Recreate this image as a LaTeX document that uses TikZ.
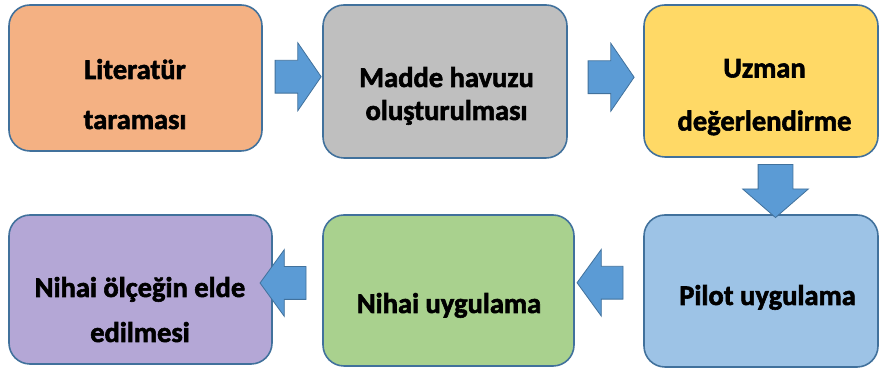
\documentclass[tikz,border=0pt]{standalone}
\usepackage{fontspec}
\setmainfont[BoldFeatures={FakeBold=2}]{Carlito}
\usetikzlibrary{shapes.arrows,calc}

\definecolor{edgeblue}{HTML}{41719C}
\definecolor{arrowblue}{HTML}{5B9BD5}
\definecolor{litfill}{HTML}{F4B183}
\definecolor{maddefill}{HTML}{BFBFBF}
\definecolor{uzmanfill}{HTML}{FFD966}
\definecolor{pilotfill}{HTML}{9DC3E6}
\definecolor{nihaifill}{HTML}{A9D18E}
\definecolor{olcekfill}{HTML}{B4A7D6}

\begin{document}
\begin{tikzpicture}[x=1pt, y=1pt,
	box/.style={draw=edgeblue, line width=1.6pt, rounded corners=21pt},
	lbl/.style={font=\bfseries\fontsize{28.5}{#1}\selectfont, align=center, inner sep=0pt, anchor=base},
	blk/.style={single arrow, draw=edgeblue, line width=0.8pt, fill=arrowblue, inner xsep=0pt, single arrow head indent=0pt}]
	\useasboundingbox (0,0) rectangle (881,374);
	% boxes, top row
	\node[box, fill=litfill, minimum width=253pt, minimum height=146pt] (lit) at (135.5,296) {};
	\node[box, fill=maddefill, minimum width=244pt, minimum height=153pt] (madde) at (445,292.5) {};
	\node[box, fill=uzmanfill, minimum width=234pt, minimum height=152pt] (uzman) at (761,293) {};
	% boxes, bottom row
	\node[box, fill=pilotfill, minimum width=234pt, minimum height=152pt] (pilot) at (761,83) {};
	\node[box, fill=nihaifill, minimum width=251pt, minimum height=151pt] (nihai) at (448.5,83.5) {};
	\node[box, fill=olcekfill, minimum width=263pt, minimum height=149pt] (olcek) at (140.5,84.5) {};
	% texts (base = last line)
	\node[lbl=50] (litT) at (135,245) {Literatür\\taraması};
	\node[lbl=33] (maddeT) at (446.5,254) {Madde havuzu\\oluşturulması};
	\node[lbl=53] (uzmanT) at (764.5,243.5) {Uzman\\değerlendirme};
	\node[lbl=31] (pilotT) at (767.5,69) {Pilot uygulama};
	\node[lbl=31] (nihaiT) at (449,61) {Nihai uygulama};
	\node[lbl=45] (olcekT) at (140,32) {Nihai ölçeğin elde\\edilmesi};
	% block arrows
	\node[blk, inner ysep=16pt, single arrow head extend=17.5pt, minimum height=46pt, single arrow tip angle=111] (a1) at ($(lit.east)!.5!(madde.west)+(0,3)$) {};
	\node[blk, inner ysep=16pt, single arrow head extend=17.5pt, minimum height=46pt, single arrow tip angle=111] (a2) at ($(madde.east)!.5!(uzman.west)+(0,4)$) {};
	\node[blk, rotate=-90, inner ysep=17pt, single arrow head extend=15.5pt, minimum height=53pt, single arrow tip angle=98] (a3) at ($(uzman.south)!.5!(pilot.north)+(14.5,2.5)$) {};
	\node[blk, rotate=180, inner ysep=16pt, single arrow head extend=17pt, minimum height=46pt, single arrow tip angle=108] (a4) at ($(pilot.west)!.5!(nihai.east)+(-3,8)$) {};
	\node[blk, rotate=180, inner ysep=16pt, single arrow head extend=17pt, minimum height=46pt, single arrow tip angle=108] (a5) at ($(nihai.west)!.5!(olcek.east)+(-8.5,7)$) {};
\end{tikzpicture}
\end{document}
